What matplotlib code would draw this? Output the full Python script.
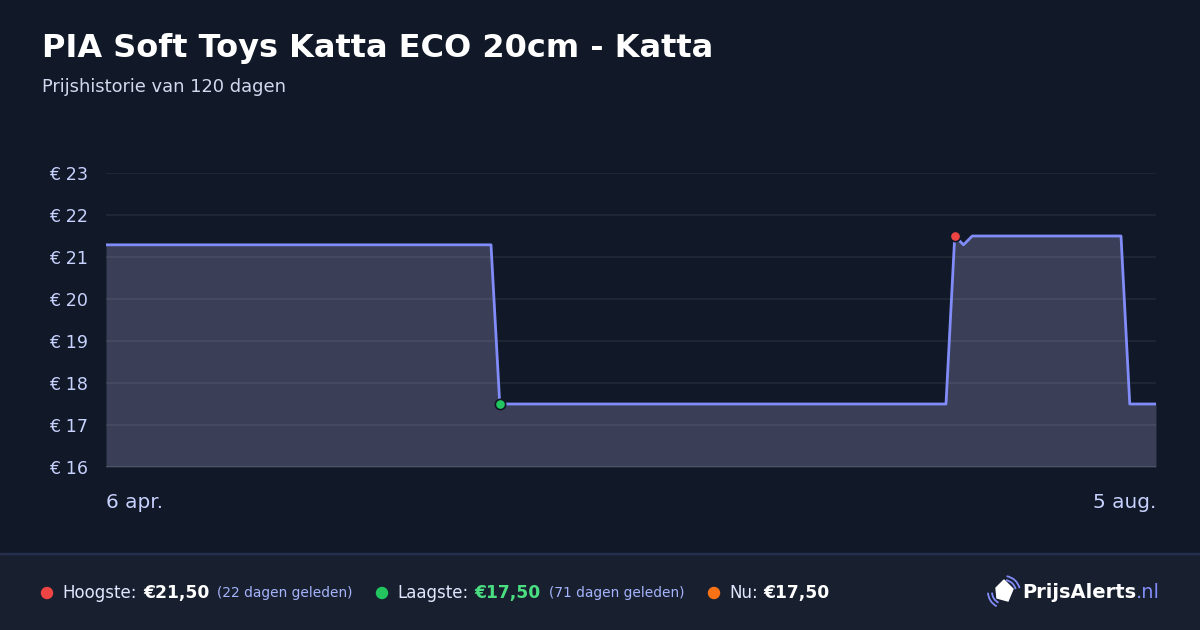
import matplotlib.pyplot as plt
from matplotlib.patches import Rectangle, Polygon, Arc, Ellipse

plt.rcParams['font.family'] = ['DejaVu Sans']

# price history (day index from 6 apr., price in euro)
days = [0, 44, 45, 96, 97, 98, 99, 116, 117, 120]
prices = [21.29, 21.29, 17.50, 17.50, 21.50, 21.29, 21.50, 21.50, 17.50, 17.50]
y_ticks = [16, 17, 18, 19, 20, 21, 22, 23]
x_labels = ['6 apr.', '5 aug.']

max_day, max_price = 97, 21.50
min_day, min_price = 45, 17.50

title = 'PIA Soft Toys Katta ECO 20cm - Katta'
subtitle = 'Prijshistorie van 120 dagen'

# colors
bg = '#111827'
footer_bg = '#182030'
line_color = '#818cf8'
fill_color = '#3a3f57'
tick_color = '#c7d2fe'

W, H = 1200, 630
fig = plt.figure(figsize=(12, 6.3), dpi=100, facecolor=bg)


def px(x, y):
    return x / W, 1 - y / H


# plot area
ax = fig.add_axes([106 / W, 163 / H, 1050 / W, 294 / H])
ax.set_facecolor(bg)
ax.fill_between(days, prices, 16, color=fill_color, lw=0, zorder=1)
for t in y_ticks[1:]:
    ax.axhline(t, color='white', alpha=0.06, lw=1.5, zorder=2)
ax.axhline(16, color='#4b5563', lw=1.5, zorder=2)
ax.plot(days, prices, color=line_color, lw=2, zorder=3)
ax.scatter([max_day], [max_price], s=55, color='#ef4444',
           edgecolor=bg, lw=1.2, zorder=4)
ax.scatter([min_day], [min_price], s=55, color='#22c55e',
           edgecolor=bg, lw=1.2, zorder=4)
ax.set_xlim(days[0], days[-1])
ax.set_ylim(16, 23)
ax.set_yticks(y_ticks)
ax.set_yticklabels(['€ %d' % t for t in y_ticks])
ax.tick_params(axis='y', length=0, pad=13, colors=tick_color, labelsize=12.6)
ax.set_xticks([])
for s in ax.spines.values():
    s.set_visible(False)

fig.text(*px(106, 503), x_labels[0], color=tick_color, fontsize=14.4,
         ha='left', va='center')
fig.text(*px(1156, 503), x_labels[1], color=tick_color, fontsize=14.4,
         ha='right', va='center')

# titles
fig.text(*px(42, 48), title, color='white', fontsize=23, fontweight='bold',
         ha='left', va='center')
fig.text(*px(42, 87), subtitle, color='#d1d9f0', fontsize=12.9,
         ha='left', va='center')

# footer
fig.patches.append(Rectangle((0, 0), 1, 76 / H, transform=fig.transFigure,
                             color=footer_bg, zorder=0))
fig.patches.append(Rectangle((0, 76 / H), 1, 1.2 / H, transform=fig.transFigure,
                             color='#262e4f', zorder=0))

fy = 593
label_color = '#e0e7ff'
small_color = '#a5b4fc'


def dot(x, color):
    fig.patches.append(Ellipse(px(x, fy), 11 / W, 11 / H,
                               transform=fig.transFigure,
                               color=color, zorder=2))


dot(47, '#ef4444')
fig.text(*px(62, fy), 'Hoogste:', color=label_color, fontsize=12, va='center')
fig.text(*px(143, fy), '€21,50', color='white', fontsize=12.3,
         fontweight='bold', va='center')
fig.text(*px(217, fy), '(22 dagen geleden)', color=small_color, fontsize=9.9,
         va='center')

dot(382, '#22c55e')
fig.text(*px(397, fy), 'Laagste:', color=label_color, fontsize=12, va='center')
fig.text(*px(474, fy), '€17,50', color='#4ade80', fontsize=12.3,
         fontweight='bold', va='center')
fig.text(*px(549, fy), '(71 dagen geleden)', color=small_color, fontsize=9.9,
         va='center')

dot(714, '#f97316')
fig.text(*px(729, fy), 'Nu:', color=label_color, fontsize=12, va='center')
fig.text(*px(763, fy), '€17,50', color='white', fontsize=12.3,
         fontweight='bold', va='center')

# logo
tag = [px(996, 588), px(1004, 580), px(1013, 589), px(1008, 601), px(997, 598)]
fig.patches.append(Polygon(tag, closed=True, transform=fig.transFigure,
                           color='white', zorder=2))
for r in (12, 16):
    fig.patches.append(Arc(px(1004, 592), 2 * r / W, 2 * r / H, angle=0,
                           theta1=185, theta2=255, transform=fig.transFigure,
                           color=line_color, lw=1.3, zorder=2))
    fig.patches.append(Arc(px(1004, 592), 2 * r / W, 2 * r / H, angle=0,
                           theta1=25, theta2=85, transform=fig.transFigure,
                           color=line_color, lw=1.3, zorder=2))
logo = fig.text(*px(1022, fy), 'PrijsAlerts', color='white', fontsize=14,
                fontweight='bold', va='center')
fig.canvas.draw()
bb = logo.get_window_extent()
fig.text(bb.x1 / W, 1 - fy / H, '.nl', color=line_color, fontsize=14,
         va='center')

plt.savefig('out.png', dpi=100, facecolor=bg)
